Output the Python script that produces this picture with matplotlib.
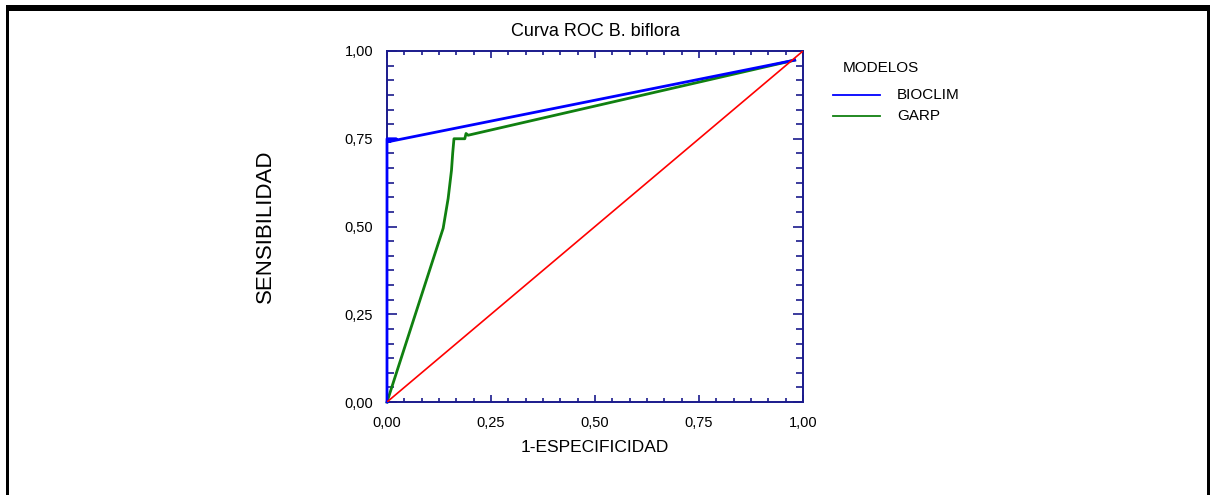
import numpy as np
import matplotlib
matplotlib.use("Agg")
import matplotlib.pyplot as plt
from matplotlib.ticker import MultipleLocator, FuncFormatter
from matplotlib.patches import Rectangle

plt.rcParams['font.family'] = ['Liberation Sans', 'DejaVu Sans']

# curve points (1-especificidad, sensibilidad)
bioclim_x = [0.0, 0.0, 0.022, 0.005, 0.98]
bioclim_y = [0.0, 0.75, 0.75, 0.742, 0.974]

garp_x = [0.0, 0.135, 0.147, 0.155, 0.158, 0.161, 0.187, 0.19, 0.195, 0.98]
garp_y = [0.0, 0.495, 0.58, 0.66, 0.71, 0.75, 0.75, 0.765, 0.76, 0.974]

ref_x = [0.0, 1.0]
ref_y = [0.0, 1.0]

models = ['BIOCLIM', 'GARP']
navy = '#1a1a8c'

fig = plt.figure(figsize=(12.1, 4.95), dpi=100)
ax = fig.add_axes([387/1210, 1 - 402/495, 416/1210, 351/495])

ax.plot(garp_x, garp_y, color='#108010', lw=2.0, zorder=3, clip_on=False)
ax.plot(bioclim_x, bioclim_y, color='#0000ff', lw=2.0, zorder=4, clip_on=False)
ax.plot(ref_x, ref_y, color='red', lw=1.2, zorder=5)

ax.set_xlim(0, 1)
ax.set_ylim(0, 1)
fmt = FuncFormatter(lambda v, p: ('%.2f' % v).replace('.', ','))
for axis in (ax.xaxis, ax.yaxis):
    axis.set_major_locator(MultipleLocator(0.25))
    axis.set_minor_locator(MultipleLocator(0.25 / 6))
    axis.set_major_formatter(fmt)

ax.tick_params(which='both', direction='in', top=True, right=True, color=navy,
               labelsize=10.5, width=1.2, pad=10)
ax.tick_params(axis='x', which='major', length=5)
ax.tick_params(axis='x', which='minor', length=3)
ax.tick_params(axis='y', which='major', length=7.5)
ax.tick_params(axis='y', which='minor', length=5)
for s in ax.spines.values():
    s.set_color(navy)
    s.set_linewidth(1.4)

ax.set_title('Curva ROC B. biflora', fontsize=13, pad=11)
ax.set_xlabel('1-ESPECIFICIDAD', fontsize=12.5, va='center')
ax.xaxis.set_label_coords(0.5, -(447 - 402) / 351)
ax.set_ylabel('SENSIBILIDAD', fontsize=16, va='center')
ax.yaxis.set_label_coords((265 - 387) / 416, 0.5)

# legend drawn by hand in figure pixels
fig.text(843/1210, 1 - 68/495, 'MODELOS', fontsize=11, va='center', ha='left')
leg_colors = ['#0000ff', '#108010']
for i, (name, c) in enumerate(zip(models, leg_colors)):
    yy = 1 - (95 + 20.5 * i) / 495
    fig.add_artist(plt.Line2D([833/1210, 880/1210], [yy, yy], color=c, lw=1.3))
    fig.text(897/1210, yy, name, fontsize=11, va='center', ha='left')

# black frame around the panel
fig.add_artist(Rectangle((6/1210, 1 - 11/495), 1203/1210, 6/495, transform=fig.transFigure,
                         color='black', lw=0))
fig.add_artist(Rectangle((6/1210, 0), 3/1210, 1 - 5/495, transform=fig.transFigure,
                         color='black', lw=0))
fig.add_artist(Rectangle((1207/1210, 0), 3/1210, 1 - 5/495, transform=fig.transFigure,
                         color='black', lw=0))

fig.savefig('out.png', dpi=100)
